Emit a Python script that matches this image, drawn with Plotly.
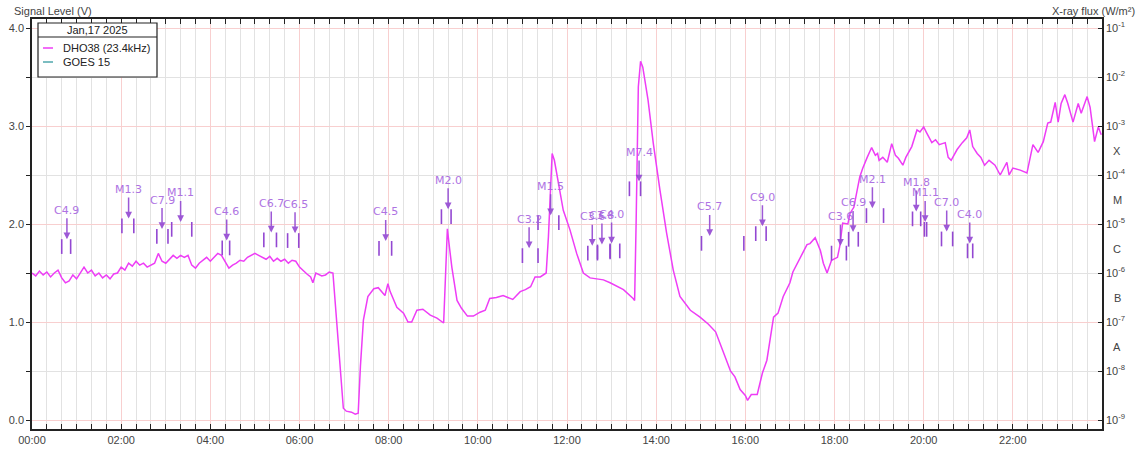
import math
import plotly.graph_objects as go

# ---------------- data ----------------
sig_times = [
    "00:00","00:05","00:10","00:15","00:20","00:25","00:30","00:35","00:40","00:45","00:50","00:55",
    "01:00","01:05","01:10","01:15","01:20","01:25","01:30","01:35","01:40","01:45","01:50","01:55",
    "02:00","02:05","02:10","02:15","02:20","02:25","02:30","02:35","02:40","02:45","02:50","02:55",
    "03:00","03:05","03:10","03:15","03:20","03:25","03:30","03:35","03:40","03:45","03:50","03:55",
    "04:00","04:05","04:10","04:15","04:20","04:25","04:30","04:35","04:40","04:45","04:50","04:55",
    "05:00","05:05","05:10","05:15","05:20","05:25","05:30","05:35","05:40","05:45","05:50","05:55",
    "06:00","06:05","06:10","06:15","06:18","06:22","06:30","06:35","06:40","06:45","06:48","06:54",
    "06:59","07:03","07:10","07:15","07:19","07:22","07:26","07:32","07:40","07:46","07:55","07:59",
    "08:02","08:11","08:20","08:26","08:31","08:38","08:46","08:56","09:05","09:14","09:17","09:19",
    "09:22","09:25","09:32","09:38","09:46","09:54","10:03","10:10","10:16","10:25","10:34","10:42",
    "10:47","10:57","11:04","11:11","11:17","11:24","11:32","11:35","11:40","11:43","11:48","11:55",
    "12:04","12:13","12:22","12:31","12:40","12:49","12:58","13:08","13:16","13:29","13:31","13:33",
    "13:36","13:39","13:42","13:49","13:56","14:05","14:14","14:23","14:32","14:46","14:59","15:10",
    "15:20","15:32","15:40","15:46","15:53","16:00","16:03","16:08","16:16","16:23","16:29","16:38",
    "16:44","16:51","17:00","17:04","17:14","17:23","17:27","17:34","17:41","17:45","17:50","17:56",
    "18:04","18:07","18:11","18:18","18:21","18:26","18:34","18:38","18:44","18:50","18:55","18:58",
    "19:00","19:05","19:11","19:17","19:22","19:26","19:32","19:36","19:44","19:51","19:55","20:00",
    "20:04","20:11","20:16","20:21","20:29","20:33","20:37","20:45","20:52","20:58","21:02","21:06",
    "21:12","21:17","21:22","21:28","21:36","21:43","21:52","21:55","22:00","22:10","22:19","22:23",
    "22:27","22:34","22:41","22:47","22:51","22:57","23:01","23:05","23:10","23:14","23:21","23:28",
    "23:32","23:40","23:44","23:50","23:55","23:59",
]
sig_values = [
    1.50,1.47,1.52,1.48,1.51,1.46,1.50,1.53,1.45,1.40,1.42,1.48,
    1.44,1.50,1.56,1.50,1.53,1.47,1.50,1.45,1.48,1.44,1.49,1.50,
    1.56,1.53,1.60,1.57,1.62,1.58,1.60,1.56,1.58,1.60,1.70,1.62,
    1.60,1.64,1.68,1.65,1.68,1.66,1.68,1.58,1.55,1.60,1.63,1.66,
    1.62,1.66,1.70,1.68,1.62,1.55,1.58,1.60,1.63,1.62,1.66,1.68,
    1.70,1.68,1.66,1.64,1.67,1.62,1.65,1.62,1.64,1.60,1.63,1.62,
    1.56,1.52,1.49,1.46,1.40,1.50,1.47,1.48,1.51,1.50,1.20,0.55,
    0.12,0.09,0.08,0.06,0.07,0.55,1.02,1.26,1.34,1.35,1.27,1.39,
    1.31,1.15,1.09,1.00,1.00,1.12,1.13,1.07,1.04,0.99,1.50,1.95,
    1.75,1.56,1.22,1.14,1.06,1.06,1.10,1.12,1.24,1.25,1.27,1.25,
    1.23,1.31,1.33,1.36,1.46,1.46,1.50,1.87,2.72,2.65,2.42,2.14,
    1.94,1.70,1.50,1.45,1.44,1.43,1.40,1.36,1.33,1.24,1.22,2.00,
    3.40,3.66,3.60,3.27,2.83,2.35,1.91,1.53,1.26,1.12,1.05,0.98,
    0.90,0.66,0.50,0.44,0.31,0.25,0.20,0.26,0.26,0.48,0.61,1.05,
    1.09,1.26,1.40,1.51,1.66,1.79,1.80,1.86,1.73,1.60,1.50,1.63,
    1.66,1.77,2.01,2.00,2.11,2.17,2.48,2.57,2.68,2.78,2.70,2.72,
    2.65,2.68,2.63,2.82,2.70,2.67,2.60,2.68,2.79,2.96,2.94,2.99,
    2.93,2.83,2.86,2.81,2.83,2.68,2.65,2.76,2.83,2.88,2.96,2.79,
    2.72,2.68,2.60,2.65,2.60,2.50,2.63,2.50,2.57,2.55,2.52,2.65,
    2.81,2.73,2.84,3.03,3.04,3.24,3.04,3.23,3.32,3.23,3.04,3.23,
    3.13,3.30,3.19,2.84,2.99,2.91,
]

flare_labels = ["C4.9","M1.3","C7.9","M1.1","C4.6","C6.7","C6.5","C4.5","M2.0","C3.2","M1.5",
                "C3.6","C3.8","C4.0","M7.4","C5.7","C9.0","C3.6","C6.9","M2.1","M1.8","M1.1",
                "C7.0","C4.0"]
flare_start = ["00:40","02:01","02:48","03:08","04:16","05:12","05:44","07:47","09:11","11:00","11:21",
               "12:28","12:41","12:58","13:24","15:01","16:14","17:56","18:19","18:43","19:45","20:01",
               "20:24","20:59"]
flare_peak = ["00:47","02:10","02:55","03:20","04:22","05:22","05:54","07:56","09:20","11:09","11:38",
              "12:34","12:47","13:00","13:37","15:12","16:23","18:08","18:25","18:51","19:50","20:02",
              "20:31","21:02"]
flare_end = ["00:52","02:17","03:03","03:35","04:26","05:29","05:59","08:04","09:24","11:21","11:49",
             "12:41","12:58","13:11","13:39","15:58","16:28","18:16","18:32","19:06","19:56","20:04",
             "20:39","21:06"]

legend_title = "Jan,17 2025"
legend_names = ["DHO38 (23.4kHz)", "GOES 15"]
legend_colors = ["#ee3df6", "#4fa7ad"]

x_tick_vals = [0, 2, 4, 6, 8, 10, 12, 14, 16, 18, 20, 22]
x_tick_text = ["00:00","02:00","04:00","06:00","08:00","10:00","12:00","14:00","16:00","18:00","20:00","22:00"]
y_tick_vals = [0, 1, 2, 3, 4]
y_tick_text = ["0.0", "1.0", "2.0", "3.0", "4.0"]
flux_exps = [-1, -2, -3, -4, -5, -6, -7, -8, -9]
class_letters = ["X", "M", "C", "B", "A"]
class_exps = [-3.5, -4.5, -5.5, -6.5, -7.5]

# ---------------- helpers ----------------
def hm(s):
    h, m = s.split(":")
    return int(h) + int(m) / 60.0

def flux_of(label):
    mult = {"A": 1e-8, "B": 1e-7, "C": 1e-6, "M": 1e-5, "X": 1e-4}[label[0]]
    return float(label[1:]) * mult

W, H = 1140, 453
# plot area in page pixels
L, R, T, B = 32, 1102, 19, 429
def px(x):
    return (x - L) / (R - L)
def py(y):
    return (B - y) / (B - T)

SIG = "#ee3df6"
FLARE = "#9347d2"
FLARE_TXT = "#a664df"
TXT = "#444444"

fig = go.Figure()

fig.add_trace(go.Scatter(
    x=[hm(t) for t in sig_times], y=sig_values, mode="lines",
    line=dict(color=SIG, width=1.5), name=legend_names[0], showlegend=False,
    hoverinfo="skip", yaxis="y"))

# start / end bars of flares
bx, by = [], []
for lab, s, e in zip(flare_labels, flare_start, flare_end):
    f = flux_of(lab)
    for t in (s, e):
        bx += [hm(t), hm(t), None]
        by += [f, f / 2.0, None]
fig.add_trace(go.Scatter(x=bx, y=by, mode="lines", line=dict(color=FLARE, width=1.6),
                         yaxis="y2", showlegend=False, hoverinfo="skip", connectgaps=False))

annotations = []
for lab, p in zip(flare_labels, flare_peak):
    f = flux_of(lab)
    annotations.append(dict(
        x=hm(p), y=math.log10(f), xref="x", yref="y2", text=lab, showarrow=True,
        ax=0, ay=-29, arrowhead=2, arrowsize=0.9, arrowwidth=1.5, arrowcolor=FLARE,
        font=dict(family="DejaVu Sans", size=11, color=FLARE_TXT), opacity=0.9))

for letter, ex in zip(class_letters, class_exps):
    annotations.append(dict(x=px(1117), y=ex, xref="paper", yref="y2", text=letter,
                            showarrow=False, xanchor="center", yanchor="middle",
                            font=dict(family="Liberation Sans", size=11, color=TXT)))

annotations.append(dict(x=px(12), y=py(11), xref="paper", yref="paper", text="Signal Level (V)",
                        showarrow=False, xanchor="left", yanchor="middle",
                        font=dict(family="Liberation Sans", size=11, color=TXT)))
annotations.append(dict(x=px(1137), y=py(11), xref="paper", yref="paper", text="X-ray flux (W/m²)",
                        showarrow=False, xanchor="right", yanchor="middle",
                        font=dict(family="Liberation Sans", size=11, color=TXT)))

# custom legend box
shapes = [
    dict(type="rect", xref="paper", yref="paper", x0=px(38), x1=px(157), y0=py(23), y1=py(77),
         line=dict(color="#222222", width=1.2), fillcolor="white", layer="above"),
    dict(type="line", xref="paper", yref="paper", x0=px(38), x1=px(157), y0=py(37), y1=py(37),
         line=dict(color="#222222", width=1.2), layer="above"),
]
annotations.append(dict(x=px(97), y=py(30), xref="paper", yref="paper", text=legend_title,
                        showarrow=False, xanchor="center", yanchor="middle",
                        font=dict(family="Liberation Sans", size=11, color="#222222")))
for i, (nm, col) in enumerate(zip(legend_names, legend_colors)):
    yy = 48 + i * 14
    shapes.append(dict(type="line", xref="paper", yref="paper", x0=px(43), x1=px(53),
                       y0=py(yy), y1=py(yy), line=dict(color=col, width=1.5), layer="above"))
    annotations.append(dict(x=px(61), y=py(yy), xref="paper", yref="paper", text=nm,
                            showarrow=False, xanchor="left", yanchor="middle",
                            font=dict(family="Liberation Sans", size=11, color="#222222")))

ymin = -9 / 98.0
ymax = 4.0 + 9 / 98.0

fig.update_layout(
    width=W, height=H,
    margin=dict(l=L, r=W - R, t=T, b=H - B, pad=0, autoexpand=False),
    plot_bgcolor="white", paper_bgcolor="white",
    showlegend=False,
    font=dict(family="Liberation Sans", size=11, color=TXT),
    xaxis=dict(range=[0, 24], tickvals=x_tick_vals, ticktext=x_tick_text, automargin=False,
               showgrid=True, gridcolor="#f8cfcf", gridwidth=1,
               minor=dict(dtick=1 / 3.0, tick0=0, showgrid=True, gridcolor="#e2e2e2",
                          gridwidth=1, ticks="inside", ticklen=3, tickcolor="#222"),
               ticks="inside", ticklen=5, tickcolor="#222",
               showline=True, linecolor="#222222", linewidth=1.5, mirror="allticks",
               zeroline=False, tickfont=dict(size=11, color=TXT)),
    yaxis=dict(range=[ymin, ymax], tickvals=y_tick_vals, ticktext=y_tick_text, automargin=False,
               showgrid=True, gridcolor="#f8cfcf", gridwidth=1,
               minor=dict(dtick=0.5, tick0=0, showgrid=True, gridcolor="#e2e2e2", gridwidth=1,
                          ticks="outside", ticklen=4, tickcolor="#222"),
               ticks="outside", ticklen=4, tickcolor="#222",
               showline=True, linecolor="#222222", linewidth=1.5, zeroline=False,
               tickfont=dict(size=11, color=TXT)),
    yaxis2=dict(type="log", overlaying="y", side="right", automargin=False,
                range=[-9 - 9 / 49.0, -1 + 9 / 49.0],
                tickvals=[10.0 ** e for e in flux_exps],
                ticktext=["10<sup>%d</sup>" % e for e in flux_exps],
                ticks="inside", ticklen=4, tickcolor="#222",
                showgrid=False, showline=True, linecolor="#222222", linewidth=1.5,
                zeroline=False, tickfont=dict(size=11, color=TXT)),
    annotations=annotations,
    shapes=shapes,
)

fig.write_html("out.html",
               config={"displayModeBar": False},
               post_script="document.body.style.margin='0px';document.body.style.overflow='hidden';")
